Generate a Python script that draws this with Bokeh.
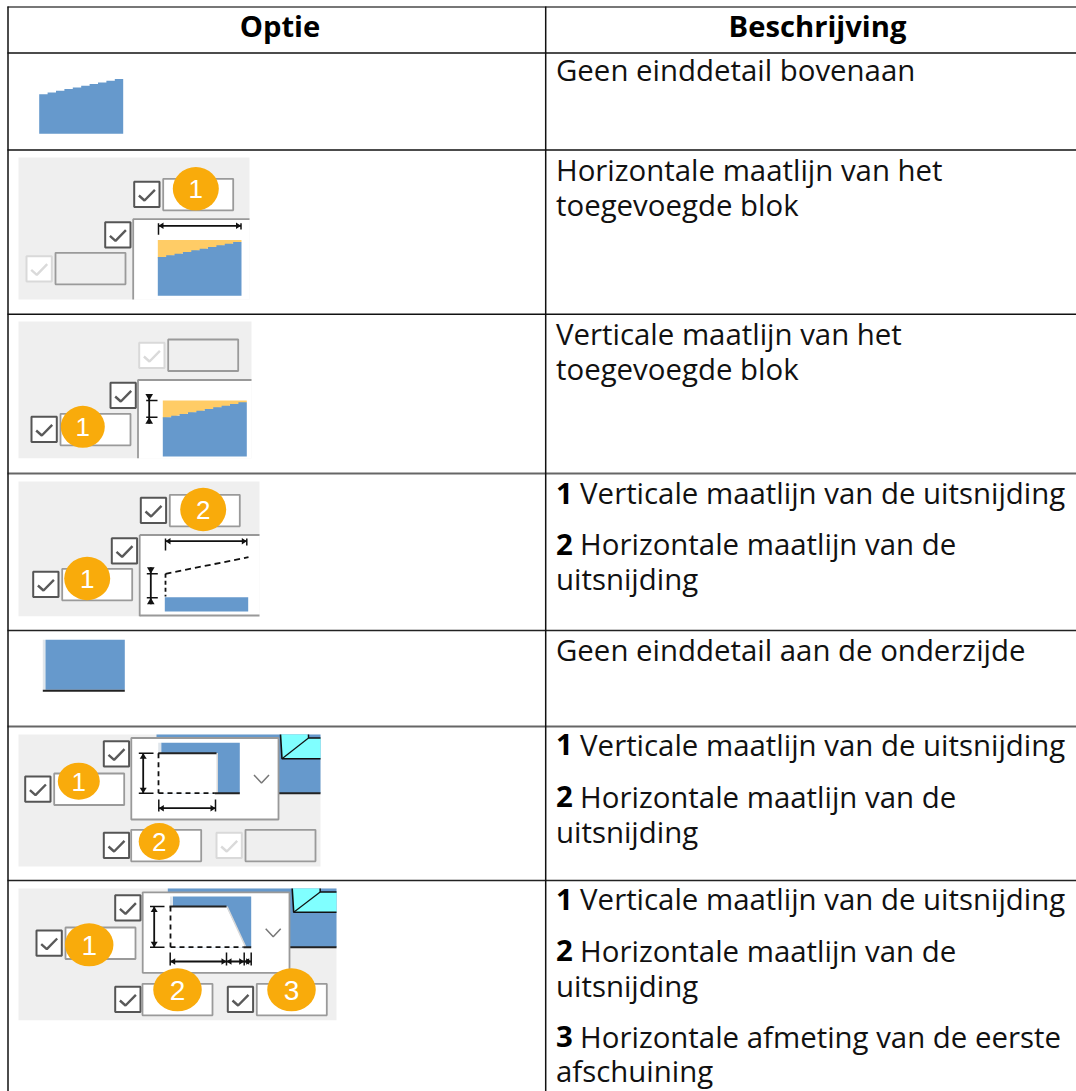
from bokeh.plotting import figure
from bokeh.models import Range1d
from bokeh.core.properties import value
from bokeh.embed import file_html
from bokeh.resources import INLINE

# ---- table content ----
HEADERS = ["Optie", "Beschrijving"]
REGULAR_LINES = ["Geen einddetail bovenaan",
                 "Horizontale maatlijn van het", "toegevoegde blok",
                 "Verticale maatlijn van het", "toegevoegde blok",
                 "uitsnijding",
                 "Geen einddetail aan de onderzijde",
                 "uitsnijding",
                 "uitsnijding",
                 "afschuining"]
REGULAR_BASE = [80, 179.5, 215, 344, 378.5, 588.5, 660, 841.5, 995.5, 1081]
NUM_LABELS = ["1", "2", "1", "2", "1", "2", "3"]
NUM_TEXTS = ["Verticale maatlijn van de uitsnijding", "Horizontale maatlijn van de",
             "Verticale maatlijn van de uitsnijding", "Horizontale maatlijn van de",
             "Verticale maatlijn van de uitsnijding", "Horizontale maatlijn van de",
             "Horizontale afmeting van de eerste"]
NUM_BASE = [503, 554, 754.5, 806.5, 909, 960.5, 1046.5]

BLUE, ORANGE, BADGE, CYAN, PANEL = "#6699CC", "#FFCC66", "#F9AB0B", "#80FFFF", "#EFEFEF"
FONT = "Open Sans"
DY = -10.5

p = figure(width=1076, height=1091, x_range=Range1d(0, 1076), y_range=Range1d(1091, 0),
           toolbar_location=None, output_backend="svg", min_border=0)
p.axis.visible = False
p.grid.visible = False
p.outline_line_color = None
p.background_fill_color = "white"
p.border_fill_color = "white"


def box(l, t, r, b, fill=None, line=None, lw=1.5):
    p.quad(left=[l], right=[r], top=[t], bottom=[b], fill_color=fill, line_color=line, line_width=lw)


def ln(xs, ys, color="#111111", lw=1.5, dash="solid"):
    p.line(xs, ys, line_color=color, line_width=lw, line_dash=dash)


def tri(xs, ys, color="#111111"):
    p.patch(xs, ys, fill_color=color, line_color=None)


def checkbox(x, y, on=True):
    c = "#555555" if on else "#D9D9D9"
    box(x, y, x + 25.3, y + 25.3, fill="white", line=c, lw=2)
    ln([x + 4.7, x + 10.3, x + 20.7], [y + 13.7, y + 18.7, y + 8], color="#5A5A5A" if on else "#DADADA", lw=2.4)


def field(x, y, on=True):
    box(x, y, x + 70, y + 31.5, fill="white" if on else PANEL, line="#9A9A9A", lw=1.8)


def badge(cx, cy, label, w=46, h=43.5, size=26):
    p.ellipse(x=[cx], y=[cy], width=[w], height=[h], fill_color=BADGE, line_color=None)
    p.text(x=[cx], y=[cy + 0.6], text=[label], text_color="white", text_align="center", text_baseline="middle",
           text_font=value("Liberation Sans"), text_font_size=f"{size}px")


def stepped(x0, x1, y0, y1, n=10):
    xs, ys = [], []
    for i in range(n):
        xa = x0 + (x1 - x0) * i / n
        xb = x0 + (x1 - x0) * (i + 1) / n
        yy = y0 + (y1 - y0) * (i + 0.5) / n
        xs += [xa, xb]
        ys += [yy, yy]
    return xs, ys


def sloped_block(x0, x1, yl, yr, bottom):
    xs, ys = stepped(x0, x1, yl, yr)
    tri([x0] + xs + [x1], [bottom] + ys + [bottom], BLUE)


def hdim(xs, y, t, b, b_last=None):
    ln([xs[0], xs[-1]], [y, y], lw=1.8)
    for i, x in enumerate(xs):
        bot = b_last if (b_last is not None and i == len(xs) - 1) else b
        ln([x, x], [t, bot], lw=1.5)
    for a, c in zip(xs[:-1], xs[1:]):
        tri([a, a + 5, a + 5], [y, y - 3.3, y + 3.3])
        tri([c, c - 5, c - 5], [y, y - 3.3, y + 3.3])


def vdim(x, ys, l, r):
    ln([x, x], [ys[0], ys[-1]], lw=1.8)
    for y in ys:
        ln([l, r], [y, y], lw=1.5)
    tri([x, x - 3.5, x + 3.5], [ys[0], ys[0] + 5.5, ys[0] + 5.5])
    tri([x, x - 3.5, x + 3.5], [ys[-1], ys[-1] - 5.5, ys[-1] - 5.5])


def vdim_out(x, y0, y1, l, r):
    ln([x, x], [y0 - 6.5, y1 + 6.5], lw=1.8)
    ln([l, r], [y0, y0], lw=1.5)
    ln([l, r], [y1, y1], lw=1.5)
    tri([x, x - 3.8, x + 3.8], [y0, y0 - 6.5, y0 - 6.5])
    tri([x, x - 3.8, x + 3.8], [y1, y1 + 6.5, y1 + 6.5])


def chevron(cx, cy):
    ln([cx - 7.5, cx, cx + 7.5], [cy - 4, cy + 4, cy - 4], color="#777777", lw=1.5)


# ---- row 1 icon ----
sloped_block(38.7, 122.7, 94.5, 77.7, 133.3)

# ---- row 2 ----
box(18, 157, 249, 299, fill=PANEL)
box(132.7, 218.7, 249, 299, fill="white")
ln([132.7, 132.7, 249], [299, 218.7, 218.7], color="#999999", lw=1.8)
checkbox(133.7, 181.3); field(162.7, 178.3)
checkbox(104.7, 221.7)
checkbox(26, 255.7, on=False); field(55, 252.3, on=False)
hdim([158, 240.5], 225.3, 222.7, 234.3, b_last=229)
tri([157.3, 241, 241, 157.3], [239.5, 239.5, 241.5, 258], ORANGE)
sloped_block(157.3, 241, 257.3, 240.7, 295.3)
badge(195.3, 188.3, "1")

# ---- row 3 ----
box(18, 321, 251, 457.7, fill=PANEL)
box(137.5, 379.5, 251, 457.7, fill="white")
ln([137.5, 137.5, 251], [457.7, 379.5, 379.5], color="#999999", lw=1.8)
checkbox(138.7, 342.3, on=False); field(167.7, 339, on=False)
checkbox(110, 382.3)
checkbox(31, 416.3); field(60, 413.3)
vdim_out(148.7, 400, 416.7, 145.7, 157)
tri([162.3, 246.3, 246.3, 162.3], [400, 400, 402, 418], ORANGE)
sloped_block(162.3, 246.3, 417.7, 401, 456)
badge(82.3, 426.3, "1", w=44, h=42)

# ---- row 4 ----
box(18, 481, 259, 615.7, fill=PANEL)
box(139.2, 534.5, 259, 615, fill="white")
ln([139.2, 139.2], [534.5, 615.7], color="#999999", lw=1.8)
ln([139.2, 259], [534.5, 534.5], color="#999999", lw=1.8)
ln([139.2, 259], [615, 615], color="#999999", lw=1.8)
checkbox(140.3, 497.3); field(169.3, 494.3)
checkbox(111.3, 537.7)
checkbox(32.7, 571.3); field(61.7, 568.3)
hdim([165, 246.3], 540.7, 538, 550, b_last=545)
ln([165, 248], [573.3, 556.7], lw=1.8, dash="6 4")
ln([165, 165], [573.3, 596], lw=1.8, dash="4 3")
vdim_out(150.3, 573.3, 597.3, 146.3, 157.3)
box(164.3, 596.7, 247.7, 611, fill=BLUE)
badge(202.7, 509, "2")
badge(86.7, 578, "1")

# ---- row 5 icon ----
box(42.3, 639.3, 45, 689.3, fill="#E0E6EC")
box(45, 639.3, 124.3, 689.3, fill=BLUE)
ln([42.3, 124.3], [690.3, 690.3], color="#222222", lw=2)


def backdrop(l, r, t, b, cl, ct_step):
    box(l, t, r, b, fill=BLUE)
    ln([l, r], [b, b], color="#222222", lw=2)
    tri([cl, cl + 27, cl + 28, r, r, cl + 1.5], [t, t, t + 3.5, t + 3.5, ct_step, ct_step], CYAN)
    ln([cl, cl + 1.5, r], [t, ct_step, ct_step], color="#111111", lw=1.6)
    ln([cl + 1.5, cl + 28], [ct_step, t + 3.5], color="#111111", lw=1.2)
    ln([cl + 28, cl + 28, r], [t, t + 3.5, t + 3.5], color="#111111", lw=1.4)


# ---- row 6 ----
box(18, 734, 320, 866, fill=PANEL)
backdrop(156, 320, 734, 792.7, 280, 758.3)
box(130.8, 737.5, 278, 819, fill="white", line="#999999", lw=1.8)
box(160.7, 742.3, 239.3, 792.7, fill=BLUE)
box(157.7, 742.3, 160.7, 752, fill="#E0E6EC")
box(158, 752.7, 217.5, 792.7, fill="white")
box(216, 752.7, 217.5, 792.7, fill="#D9D9D9")
ln([157.7, 216], [752.7, 752.7], color="#222222", lw=2)
ln([214.3, 239.3], [792.7, 792.7], color="#222222", lw=2)
ln([158, 214.3], [792.7, 792.7], lw=1.8, dash="5 4")
ln([158, 158], [752.7, 792.7], lw=1.8, dash="5 4")
vdim(142.7, [752.7, 792.7], 138.3, 153)
hdim([158.3, 215], 807.7, 799, 811)
chevron(261, 778.5)
checkbox(103.3, 740.7)
checkbox(24.7, 776); field(53.7, 773)
checkbox(103.3, 832.3); field(130.7, 829.3)
checkbox(216, 832.3, on=False); field(245, 829.3, on=False)
badge(78.3, 780.7, "1", w=42, h=37)
badge(158.7, 841, "2", w=41, h=37)

# ---- row 7 ----
box(18, 888, 336, 1019.7, fill=PANEL)
backdrop(167.3, 336, 888, 946.7, 291.7, 911.7)
box(142.2, 891.8, 289, 972.3, fill="white", line="#999999", lw=1.8)
box(172.3, 896, 250.7, 946.7, fill=BLUE)
box(169.5, 896, 172.3, 905, fill="#E0E6EC")
tri([169.5, 226, 245.5, 169.5], [906, 906, 946.7, 946.7], "white")
ln([226.5, 245], [906, 946], color="#D9D9D9", lw=1.6)
ln([169, 226], [906, 906], color="#222222", lw=2)
ln([243, 250.7], [946.7, 946.7], color="#222222", lw=2)
ln([170, 243], [946.7, 946.7], lw=1.8, dash="5 4")
ln([170, 170], [906, 946.7], lw=1.8, dash="5 4")
vdim(153.7, [906, 946.7], 149.5, 164)
hdim([169.7, 226, 243.7, 250.7], 961, 952, 965)
chevron(272.7, 932.3)
checkbox(114.7, 894.7)
checkbox(36, 930); field(65, 927)
checkbox(114.7, 986.3); field(142, 983.3)
checkbox(227.3, 986.3); field(256.3, 983.3)
badge(88.7, 944.3, "1", w=48.5, h=43, size=28)
badge(177, 989.3, "2", w=48.5, h=43, size=28)
badge(291, 989.3, "3", w=48.5, h=43, size=28)

# ---- grid lines ----
for y, c, w in [(6.5, "#777777", 2), (52.5, "#111111", 1.4), (149.5, "#111111", 1.4), (313.7, "#111111", 1.4),
                (473, "#666666", 2), (630, "#222222", 1.6), (726, "#666666", 2), (880, "#222222", 1.6)]:
    ln([7, 1076], [y, y], color=c, lw=w)
ln([7.5, 7.5], [6, 1091], lw=1.5)
ln([545.2, 545.2], [6, 1091], lw=1.5)

# ---- texts ----
BIG = "29.4px"
p.text(x=[279.5, 817], y=[36 + DY, 36 + DY], text=HEADERS, text_align="center", text_baseline="alphabetic",
       text_font=value(FONT), text_font_style="bold", text_font_size="29.2px", text_color="#000000")
p.text(x=[555.5] * len(REGULAR_LINES), y=[b + DY for b in REGULAR_BASE], text=REGULAR_LINES,
       text_baseline="alphabetic", text_font=value(FONT), text_font_size=BIG, text_color="#111111")
p.text(x=[555.5] * len(NUM_LABELS), y=[b + DY for b in NUM_BASE], text=NUM_LABELS, text_baseline="alphabetic",
       text_font=value(FONT), text_font_style="bold", text_font_size=BIG, text_color="#000000")
p.text(x=[579.6] * len(NUM_TEXTS), y=[b + DY for b in NUM_BASE], text=NUM_TEXTS, text_baseline="alphabetic",
       text_font=value(FONT), text_font_size=BIG, text_color="#111111")

open("out.html", "w").write(file_html(p, INLINE))
